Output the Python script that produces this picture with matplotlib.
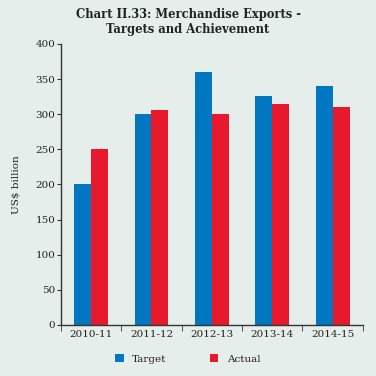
import numpy as np
import matplotlib
matplotlib.use("Agg")
import matplotlib.pyplot as plt

years = ["2010-11", "2011-12", "2012-13", "2013-14", "2014-15"]
target = [200, 300, 360, 326, 340]
actual = [250, 306, 300, 314, 310]

bg = "#e6eeeb"
plt.rcParams['font.family'] = ['DejaVu Serif']

fig = plt.figure(figsize=(3.76, 3.76), dpi=100, facecolor=bg)
ax = fig.add_axes([0.162, 0.136, 0.803, 0.747], facecolor=bg)

x = np.arange(len(years))
w = 0.28
ax.bar(x - w/2, target, w, color="#0077c0", label="Target")
ax.bar(x + w/2, actual, w, color="#e8192c", label="Actual")

ax.set_xlim(-0.5, len(years) - 0.5)
ax.set_ylim(0, 400)
ax.set_yticks(range(0, 401, 50))
ax.set_xticks(x)
ax.set_xticklabels(years, fontsize=7.5, color='#222222')
ax.set_xticks(np.arange(-0.5, len(years), 1), minor=True)
ax.tick_params(axis='x', which='major', length=0, pad=4)
ax.tick_params(axis='x', which='minor', length=4, direction='out', color='#333333')
ax.tick_params(axis='y', labelsize=7.5, length=3, color='#333333', pad=1, labelcolor='#222222')

for s in ['top', 'right']:
    ax.spines[s].set_visible(False)
for s in ['left', 'bottom']:
    ax.spines[s].set_color('#333333')
    ax.spines[s].set_linewidth(1.0)

ax.set_ylabel("US$ billion", fontsize=7.5, labelpad=11, color='#222222')
fig.text(0.5, 0.905, "Chart II.33: Merchandise Exports -\nTargets and Achievement",
         ha='center', va='bottom', fontsize=8.3, fontweight='bold', linespacing=1.15,
         color='#222222')

ax.legend(loc='upper center', bbox_to_anchor=(0.42, -0.07), ncol=2, frameon=False,
          fontsize=7.5, handlelength=0.8, handleheight=0.8, columnspacing=4.2,
          labelcolor='#222222')

fig.savefig("out.png", dpi=100, facecolor=bg)
